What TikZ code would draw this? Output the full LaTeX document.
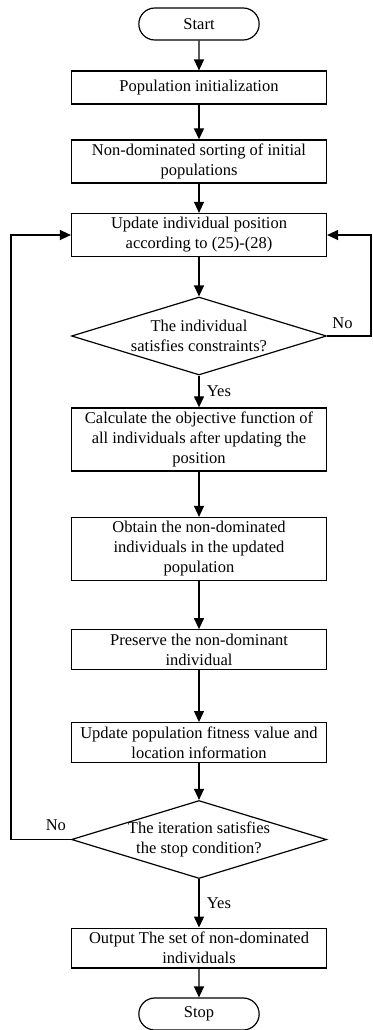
\documentclass[tikz,border=0pt]{standalone}
\usepackage{fontspec}
\setmainfont{Liberation Serif}
\usepackage{tikz}
\usetikzlibrary{arrows.meta,shapes.geometric,shapes.misc}

\tikzset{
  box/.style={draw,line width=1.2pt,minimum width=255pt,minimum height=33pt,inner ysep=4pt,align=center,font=\fontsize{16.5}{20}\selectfont},
  term/.style={draw,line width=1.2pt,rounded rectangle,minimum width=127pt,minimum height=32pt,font=\fontsize{16.5}{20}\selectfont},
  cond/.style={draw,line width=1.2pt,diamond,aspect=3.3,inner sep=-20pt,minimum width=255pt,minimum height=78pt,align=center,font=\fontsize{16.5}{20}\selectfont},
  lbl/.style={font=\fontsize{16.5}{20}\selectfont}
}

\begin{document}
\begin{tikzpicture}[x=1pt,y=-1pt,>={Triangle[length=11pt,width=10pt]},line width=1.3pt]
\useasboundingbox (0,0) rectangle (372,1030);
\node[term] (start) at (199,24) {Start};
\node[box] (init) at (199,87.5) {Population initialization};
\node[box] (sort) at (199,161.5) {Non-dominated sorting of initial\\populations};
\node[box] (update) at (199,235) {Update individual position\\according to (25)-(28)};
\node[cond] (check) at (199,336) {The individual\\satisfies constraints?};
\node[box] (calc) at (199,439.5) {Calculate the objective function of\\all individuals after updating the\\position};
\node[box] (obtain) at (199,549) {Obtain the non-dominated\\individuals in the updated\\population};
\node[box] (keep) at (199,649.5) {Preserve the non-dominant\\individual};
\node[box] (fitness) at (199,742.5) {Update population fitness value and\\location information};
\node[cond] (iter) at (199,839.5) {The iteration satisfies\\the stop condition?};
\node[box] (output) at (199,948) {Output The set of non-dominated\\individuals};
\node[term] (stop) at (199,1014) {Stop};

\draw[->] (start) -- (init);
\draw[->] (init) -- (sort);
\draw[->] (sort) -- (update);
\draw[->] (update) -- (check);
\draw[->] (check) -- (calc) node[lbl,midway,right=4pt]{Yes};
\draw[->] (calc) -- (obtain);
\draw[->] (obtain) -- (keep);
\draw[->] (keep) -- (fitness);
\draw[->] (fitness) -- (iter);
\draw[->] (iter) -- (output) node[lbl,midway,right=4pt]{Yes};
\draw[->] (output) -- (stop);
% feedback loops
\draw[->] (check.east) -- ++(44,0) node[lbl,pos=0.35,above=3pt]{No} |- (update.east);
\draw[->] (iter.west) -- ++(-60,0) node[lbl,pos=0.25,above=5pt]{No} |- (update.west);
\end{tikzpicture}
\end{document}
